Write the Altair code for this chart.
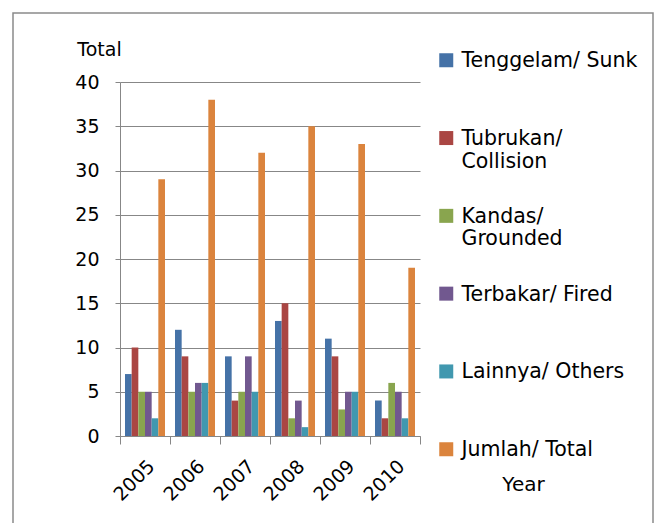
import altair as alt
import pandas as pd

years = ["2005", "2006", "2007", "2008", "2009", "2010"]
series = ["Tenggelam/ Sunk", "Tubrukan/ Collision", "Kandas/ Grounded",
          "Terbakar/ Fired", "Lainnya/ Others", "Jumlah/ Total"]
sunk = [7, 12, 9, 13, 11, 4]
collision = [10, 9, 4, 15, 9, 2]
grounded = [5, 5, 5, 2, 3, 6]
fired = [5, 6, 9, 4, 5, 5]
others = [2, 6, 5, 1, 5, 2]
total = [29, 38, 32, 35, 33, 19]
colors = ["#4572A7", "#AA4643", "#89A54E", "#71588F", "#4198AF", "#DB843D"]
y_ticks = [0, 5, 10, 15, 20, 25, 30, 35, 40]

values = [sunk, collision, grounded, fired, others, total]
rows = []
for s, vals in zip(series, values):
    for yr, v in zip(years, vals):
        rows.append({"Year": yr, "Series": s, "Value": v})
df = pd.DataFrame(rows)

FONT = "DejaVu Sans"
GRID = "#878787"

bars = alt.Chart(df).mark_bar().encode(
    x=alt.X("Year:N", sort=years,
            scale=alt.Scale(paddingInner=0, paddingOuter=0),
            axis=alt.Axis(title="Year", labelAngle=-45, labelAlign="right",
                          labelBaseline="middle", labelFontSize=19,
                          labelFont=FONT, labelColor="black",
                          labelPadding=19, labelOffset=6,
                          tickSize=8, tickColor=GRID, domainColor=GRID,
                          tickBand="extent", bandPosition=0,
                          titleFont=FONT, titleFontSize=20, titleFontWeight="normal",
                          titleX=403, titleY=48, titleAnchor="start", titleAlign="center",
                          titleBaseline="middle", grid=False)),
    xOffset=alt.XOffset("Series:N", sort=series,
                        scale=alt.Scale(paddingInner=0, paddingOuter=0.75)),
    y=alt.Y("Value:Q", scale=alt.Scale(domain=[0, 40]),
            axis=alt.Axis(title="Total", values=y_ticks, labelFontSize=19,
                          labelFont=FONT, labelColor="black", labelPadding=16,
                          tickSize=5, tickColor=GRID, domainColor=GRID,
                          gridColor=GRID, gridWidth=1.2,
                          titleAngle=0, titleX=-21, titleY=-33, titleAlign="center",
                          titleBaseline="middle", titleFont=FONT, titleFontSize=19,
                          titleFontWeight="normal")),
    color=alt.Color("Series:N", sort=series,
                    scale=alt.Scale(domain=series, range=colors),
                    legend=alt.Legend(
                        title=None, orient="none", legendX=316, legendY=-25,
                        symbolType="M-1,-2H1V0H-1Z", symbolSize=196, symbolStrokeWidth=0,
                        labelFont=FONT, labelFontSize=20.5, labelColor="black",
                        labelOffset=5, labelBaseline="alphabetic",
                        gridAlign="all", rowPadding=33.8, labelLimit=300,
                        labelExpr="indexof(['Tubrukan/ Collision','Kandas/ Grounded'], datum.label) >= 0 ? split(datum.label, ' ') : datum.label")),
)

border = alt.Chart(pd.DataFrame({"a": [0]})).mark_rect(
    filled=False, stroke="#8a8a8a", strokeWidth=1.5
).encode(x=alt.value(-107), x2=alt.value(533), y=alt.value(-69), y2=alt.value(600))

chart = alt.layer(bars, border).properties(
    width=300, height=354,
    autosize=alt.AutoSizeParams(type="none"),
    padding={"left": 112, "top": 74, "right": 242, "bottom": 87},
).configure_view(stroke=None)

chart.save("out.html", embed_options={"renderer": "svg", "actions": False})
